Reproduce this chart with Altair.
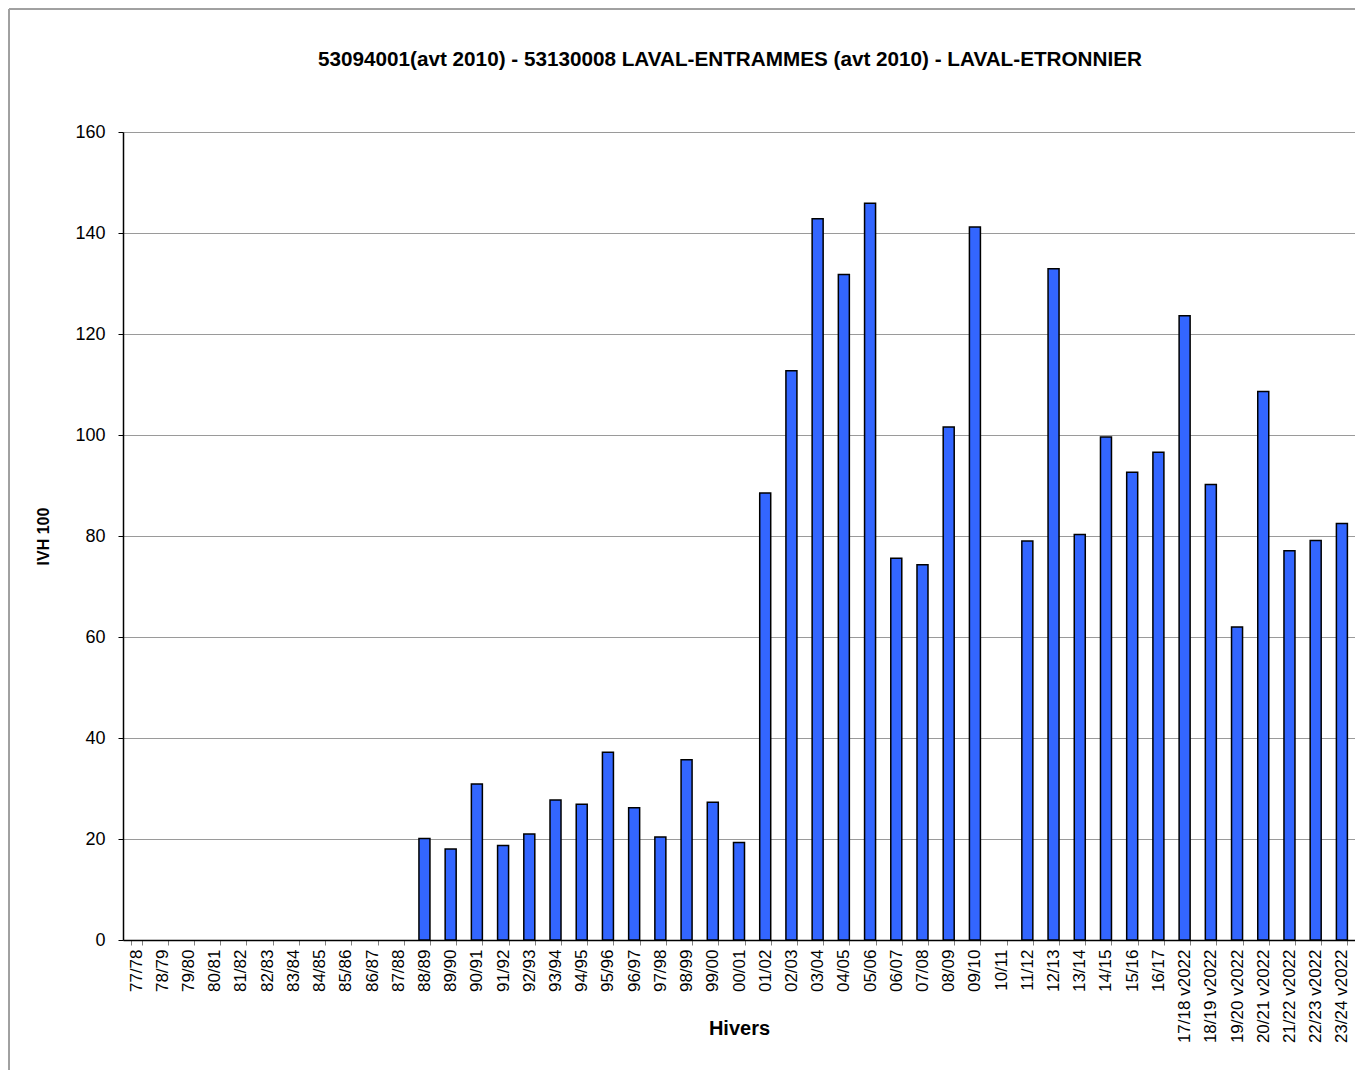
import altair as alt
import pandas as pd

hivers = [
    "77/78", "78/79", "79/80", "80/81", "81/82", "82/83", "83/84", "84/85",
    "85/86", "86/87", "87/88", "88/89", "89/90", "90/91", "91/92", "92/93",
    "93/94", "94/95", "95/96", "96/97", "97/98", "98/99", "99/00", "00/01",
    "01/02", "02/03", "03/04", "04/05", "05/06", "06/07", "07/08", "08/09",
    "09/10", "10/11", "11/12", "12/13", "13/14", "14/15", "15/16", "16/17",
    "17/18 v2022", "18/19 v2022", "19/20 v2022", "20/21 v2022",
    "21/22 v2022", "22/23 v2022", "23/24 v2022",
]
ivh100 = [
    None, None, None, None, None, None, None, None,
    None, None, None, 20.1, 18.0, 30.9, 18.7, 21.0,
    27.7, 26.9, 37.2, 26.2, 20.4, 35.7, 27.3, 19.3,
    88.5, 112.7, 142.8, 131.8, 145.9, 75.6, 74.3, 101.6,
    141.2, None, 79.0, 132.9, 80.3, 99.6, 92.6, 96.6,
    123.6, 90.2, 62.0, 108.6,
    77.1, 79.1, 82.5,
]

df = pd.DataFrame({"Hivers": hivers, "IVH 100": ivh100})

FONT = "Liberation Sans"
W, H = 1232, 808

bars = alt.Chart(df).mark_bar(
    color="#3366FF", stroke="black", strokeWidth=1.5
).encode(
    x=alt.X(
        "Hivers:N",
        sort=hivers,
        scale=alt.Scale(domain=hivers, paddingInner=0.58, paddingOuter=0.29),
        axis=alt.Axis(
            title="Hivers",
            labelAngle=-90,
            labelFont=FONT,
            labelFontSize=17,
            labelColor="black",
            labelPadding=4,
            tickBand="extent",
            tickSize=5,
            tickColor="#808080",
            domainColor="black",
            domainWidth=1.5,
            titleFont=FONT,
            titleFontSize=20,
            titleFontWeight="bold",
            titleColor="black",
            titleY=88,
            titleBaseline="middle",
            grid=False,
        ),
    ),
    y=alt.Y(
        "IVH 100:Q",
        scale=alt.Scale(domain=[0, 160], nice=False),
        axis=alt.Axis(
            title="IVH 100",
            values=[0, 20, 40, 60, 80, 100, 120, 140, 160],
            labelFont=FONT,
            labelFontSize=18,
            labelColor="black",
            labelPadding=13,
            tickSize=5,
            tickColor="black",
            domainColor="black",
            domainWidth=1.5,
            gridColor="#9a9a9a",
            gridWidth=1,
            titleFont=FONT,
            titleFontSize=16,
            titleFontWeight="bold",
            titleColor="black",
            titlePadding=23,
        ),
    ),
)

border = alt.Chart(df).mark_rect(
    fill=None, stroke="#a0a0a0", strokeWidth=1
).encode(
    x=alt.value(-114), x2=alt.value(W + 20),
    y=alt.value(-123), y2=alt.value(H + 160),
)

chart = alt.layer(bars, border).properties(
    width=W,
    height=H,
    title=alt.TitleParams(
        "53094001(avt 2010) - 53130008 LAVAL-ENTRAMMES (avt 2010) - LAVAL-ETRONNIER",
        font=FONT,
        fontSize=20.7,
        fontWeight="bold",
        color="black",
        anchor="middle",
        offset=-62,
        dx=-9,
    ),
    autosize=alt.AutoSizeParams(type="none"),
    padding={"left": 115, "top": 124, "right": 0, "bottom": 130},
).configure_view(
    stroke="#9a9a9a", strokeWidth=1
).configure(
    background="white"
)

chart.save("out.html", embed_options={"renderer": "svg", "actions": False})
